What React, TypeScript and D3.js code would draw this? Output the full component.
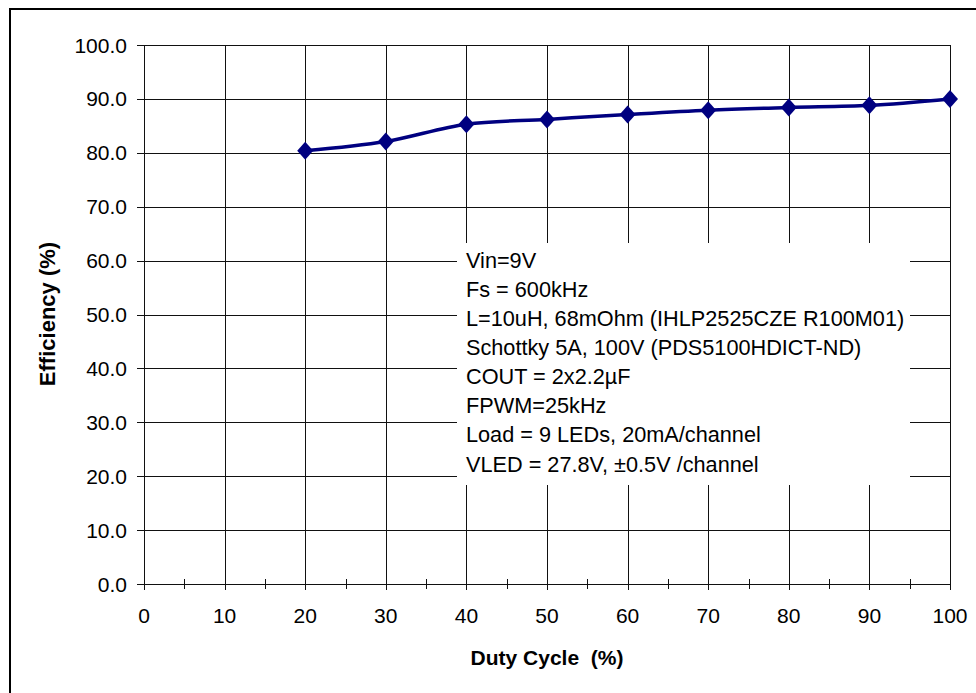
import React, { useEffect, useRef } from "react";
import * as d3 from "d3";

// duty cycle (%) vs efficiency (%)
const dutyCycle = [20, 30, 40, 50, 60, 70, 80, 90, 100];
const efficiency = [80.4, 82.1, 85.3, 86.2, 87.1, 87.9, 88.4, 88.8, 90.0];

const xTicks = [0, 10, 20, 30, 40, 50, 60, 70, 80, 90, 100];
const xMinorTicks = [5, 15, 25, 35, 45, 55, 65, 75, 85, 95];
const yTicks = [0, 10, 20, 30, 40, 50, 60, 70, 80, 90, 100];

const notes = [
  "Vin=9V",
  "Fs = 600kHz",
  "L=10uH, 68mOhm (IHLP2525CZE R100M01)",
  "Schottky 5A, 100V (PDS5100HDICT-ND)",
  "COUT = 2x2.2µF",
  "FPWM=25kHz",
  "Load = 9 LEDs, 20mA/channel",
  "VLED = 27.8V, ±0.5V /channel",
];

const W = 976;
const H = 693;
const FONT = "'Liberation Sans', Arial, sans-serif";

const App: React.FC = () => {
  const ref = useRef<SVGSVGElement>(null);

  useEffect(() => {
    const svg = d3.select(ref.current);
    svg.selectAll("*").remove();

    const x = d3.scaleLinear().domain([0, 100]).range([144, 950]);
    const y = d3.scaleLinear().domain([0, 100]).range([584, 45]);

    // outer frame (runs off the right and bottom edges)
    svg
      .append("rect")
      .attr("x", 10)
      .attr("y", 9)
      .attr("width", 1000)
      .attr("height", 720)
      .attr("fill", "#fff")
      .attr("stroke", "#000")
      .attr("stroke-width", 2);

    const grid = svg.append("g").attr("stroke", "#111").attr("stroke-width", 1);

    grid
      .selectAll("line.h")
      .data(yTicks)
      .enter()
      .append("line")
      .attr("x1", 137)
      .attr("x2", x(100))
      .attr("y1", (d) => Math.round(y(d)) + 0.5)
      .attr("y2", (d) => Math.round(y(d)) + 0.5);

    grid
      .selectAll("line.v")
      .data(xTicks)
      .enter()
      .append("line")
      .attr("x1", (d) => Math.round(x(d)) + 0.5)
      .attr("x2", (d) => Math.round(x(d)) + 0.5)
      .attr("y1", y(100))
      .attr("y2", y(0) + 6);

    grid
      .selectAll("line.minor")
      .data(xMinorTicks)
      .enter()
      .append("line")
      .attr("x1", (d) => Math.round(x(d)) + 0.5)
      .attr("x2", (d) => Math.round(x(d)) + 0.5)
      .attr("y1", y(0) - 5)
      .attr("y2", y(0) + 5);

    // tick labels
    svg
      .append("g")
      .selectAll("text")
      .data(yTicks)
      .enter()
      .append("text")
      .attr("x", 127)
      .attr("y", (d) => y(d))
      .attr("dy", "0.36em")
      .attr("text-anchor", "end")
      .style("font-family", FONT)
      .style("font-size", "21px")
      .text((d) => d.toFixed(1));

    svg
      .append("g")
      .selectAll("text")
      .data(xTicks)
      .enter()
      .append("text")
      .attr("x", (d) => x(d))
      .attr("y", 615)
      .attr("dy", "0.36em")
      .attr("text-anchor", "middle")
      .style("font-family", FONT)
      .style("font-size", "21px")
      .text((d) => String(d));

    // axis titles
    svg
      .append("text")
      .attr("x", 547)
      .attr("y", 657)
      .attr("dy", "0.36em")
      .attr("text-anchor", "middle")
      .style("font-family", FONT)
      .style("font-size", "21px")
      .style("font-weight", "bold")
      .attr("xml:space", "preserve")
      .text("Duty Cycle  (%)");

    svg
      .append("text")
      .attr("transform", "translate(47,314) rotate(-90)")
      .attr("dy", "0.36em")
      .attr("text-anchor", "middle")
      .style("font-family", FONT)
      .style("font-size", "22px")
      .style("font-weight", "bold")
      .text("Efficiency (%)");

    // annotation box
    svg
      .append("rect")
      .attr("x", 457)
      .attr("y", 243)
      .attr("width", 453)
      .attr("height", 242)
      .attr("fill", "#fff");

    svg
      .append("g")
      .selectAll("text")
      .data(notes)
      .enter()
      .append("text")
      .attr("x", 466)
      .attr("y", (_d, i) => 260 + i * 29.1)
      .attr("dy", "0.36em")
      .style("font-family", FONT)
      .style("font-size", "21.7px")
      .attr("xml:space", "preserve")
      .text((d) => d);

    // data line
    const pts = dutyCycle.map((d, i) => [d, efficiency[i]] as [number, number]);
    const line = d3
      .line<[number, number]>()
      .x((d) => x(d[0]))
      .y((d) => y(d[1]))
      .curve(d3.curveCardinal);

    svg
      .append("path")
      .datum(pts)
      .attr("d", line)
      .attr("fill", "none")
      .attr("stroke", "#000080")
      .attr("stroke-width", 3.5);

    svg
      .append("g")
      .selectAll("path")
      .data(pts)
      .enter()
      .append("path")
      .attr("transform", (d) => `translate(${x(d[0])},${y(d[1])})`)
      .attr("d", "M0,-9L8,0L0,9L-8,0Z")
      .attr("fill", "#000080");
  }, []);

  return (
    <svg
      ref={ref}
      width={W}
      height={H}
      style={{ position: "absolute", left: 0, top: 0 }}
    />
  );
};

export default App;
